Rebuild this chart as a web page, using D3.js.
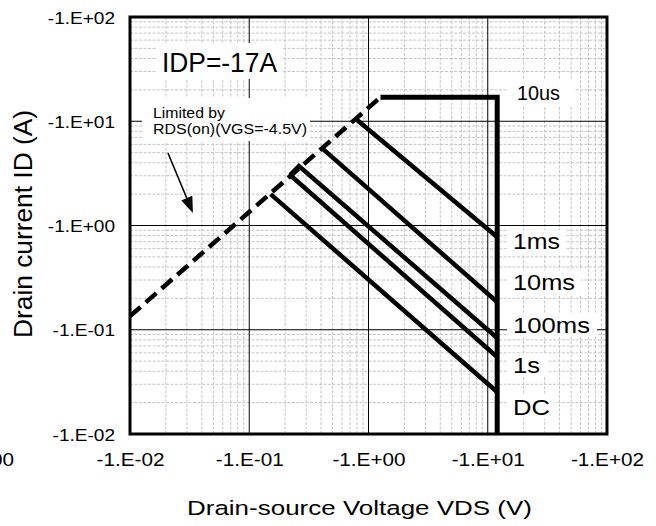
<!DOCTYPE html>
<html>
<head>
<meta charset="utf-8">
<script src="https://cdn.jsdelivr.net/npm/d3@7"></script>
<style>
  body { margin: 0; background: #fff; }
  text { font-family: "Liberation Sans", Arial, sans-serif; fill: #000; }
</style>
</head>
<body>
<div id="chart"></div>
<script>
// decade ticks, same on both axes
var xTicks = [0.01, 0.1, 1, 10, 100];
var yTicks = [0.01, 0.1, 1, 10, 100];
var tickText = ["-1.E-02", "-1.E-01", "-1.E+00", "-1.E+01", "-1.E+02"];

// RDS(on) limit (dashed)
var rdsV = [0.01, 1.26];
var rdsI = [0.135, 17];

// pulse curves, VDS (V) and ID (A)
var v10us = [1.26, 12, 12],    i10us = [17, 17, 0.01];
var v1ms = [0.77, 12],         i1ms = [10.7, 0.776];
var v10ms = [0.407, 12],       i10ms = [5.53, 0.1845];
var v100ms = [0.22, 0.261, 12], i100ms = [3.05, 3.72, 0.0834];
var v1s = [0.22, 12],          i1s = [3.05, 0.0548];
var vDC = [0.151, 12],         iDC = [2.0, 0.0253];

// arrow of the RDS(on) note
var arrowV = [0.0208, 0.0337];
var arrowI = [4.96, 1.32];

var W = 656, H = 526;
var L = 130, R = 607, T = 17, B = 434;

var svg = d3.select("#chart").append("svg")
    .attr("width", W)
    .attr("height", H);

var x = d3.scaleLog().domain([0.01, 100]).range([L, R]);
var y = d3.scaleLog().domain([0.01, 100]).range([B, T]);

// stretch text horizontally to the width seen in the picture
function fit(sel, w) {
    sel.each(function() {
        var n = this.getComputedTextLength();
        var target = w > 3 ? w : n * w;
        d3.select(this).attr("textLength", target).attr("lengthAdjust", "spacingAndGlyphs");
    });
}

// minor grid 2..9 per decade
var minor = [];
[0.01, 0.1, 1, 10].forEach(function(d) {
    for (var k = 2; k < 10; k++) minor.push(d * k);
});

var grid = svg.append("g");
grid.selectAll(".mx").data(minor).enter().append("line")
    .attr("x1", d => x(d)).attr("x2", d => x(d))
    .attr("y1", T).attr("y2", B)
    .attr("stroke", "#c4c4c4").attr("stroke-dasharray", "3,1.5");
grid.selectAll(".my").data(minor).enter().append("line")
    .attr("y1", d => y(d)).attr("y2", d => y(d))
    .attr("x1", L).attr("x2", R)
    .attr("stroke", "#c4c4c4").attr("stroke-dasharray", "3,1.5");
grid.selectAll(".Mx").data(xTicks).enter().append("line")
    .attr("x1", d => x(d)).attr("x2", d => x(d))
    .attr("y1", T).attr("y2", B)
    .attr("stroke", "#000").attr("stroke-width", 1);
grid.selectAll(".My").data(yTicks).enter().append("line")
    .attr("y1", d => y(d)).attr("y2", d => y(d))
    .attr("x1", L).attr("x2", R)
    .attr("stroke", "#000").attr("stroke-width", 1);

// white boxes under the notes
function note(x0, base, str, size, w) {
    var t = svg.append("text")
        .attr("x", x0).attr("y", base)
        .style("font-size", size + "px")
        .text(str);
    fit(t, w);
    return t;
}
var boxes = [
    [157, 43, 126, 36],
    [142, 98, 168, 43],
    [508, 80, 66, 27],
    [507, 230, 58, 24],
    [507, 270, 74, 24],
    [507, 313, 90, 24],
    [507, 353, 40, 24],
    [507, 395, 48, 24]
];
svg.selectAll(".box").data(boxes).enter().append("rect")
    .attr("x", d => d[0]).attr("y", d => d[1])
    .attr("width", d => d[2]).attr("height", d => d[3])
    .attr("fill", "#fff");

// curves
var line = d3.line().x(d => x(d[0])).y(d => y(d[1]));
function pts(v, i) { return v.map((d, k) => [d, i[k]]); }

svg.append("path")
    .attr("d", line(pts(rdsV, rdsI)))
    .attr("fill", "none").attr("stroke", "#000")
    .attr("stroke-width", 4.5).attr("stroke-dasharray", "14,7");

var curves = [pts(v10us, i10us), pts(v1ms, i1ms), pts(v10ms, i10ms),
              pts(v100ms, i100ms), pts(v1s, i1s), pts(vDC, iDC)];
svg.selectAll(".curve").data(curves).enter().append("path")
    .attr("d", d => line(d))
    .attr("fill", "none").attr("stroke", "#000")
    .attr("stroke-width", (d, k) => k === 0 ? 5 : 4.5)
    .attr("stroke-linejoin", "miter");

// frame
svg.append("rect")
    .attr("x", L).attr("y", T).attr("width", R - L).attr("height", B - T)
    .attr("fill", "none").attr("stroke", "#000").attr("stroke-width", 3);

// axes
var xAxis = svg.append("g")
    .attr("transform", "translate(0," + B + ")")
    .call(d3.axisBottom(x).tickValues(xTicks).tickSize(0)
        .tickFormat((d, i) => tickText[i]));
xAxis.select(".domain").remove();
xAxis.selectAll("text")
    .attr("dy", null).attr("y", 32)
    .style("font-size", "18.5px").style("font-family", null);
fit(xAxis.selectAll("text"), 1.12);

var yAxis = svg.append("g")
    .attr("transform", "translate(" + L + ",0)")
    .call(d3.axisLeft(y).tickValues(yTicks).tickSize(0)
        .tickFormat((d, i) => tickText[i]));
yAxis.select(".domain").remove();
yAxis.selectAll("text")
    .attr("x", -15).attr("dy", "0.36em")
    .style("font-size", "17px").style("font-family", null);
fit(yAxis.selectAll("text"), 1.12);

// stray label cut at the left edge
var stray = svg.append("text")
    .attr("x", 14).attr("y", 466)
    .attr("text-anchor", "end")
    .style("font-size", "18.5px")
    .text("-1.E+00");
fit(stray, 1.12);

// titles
var xt = svg.append("text")
    .attr("x", 359.5).attr("y", 515)
    .attr("text-anchor", "middle")
    .style("font-size", "20.5px")
    .text("Drain-source Voltage VDS (V)");
fit(xt, 345);

var yt = svg.append("text")
    .attr("transform", "translate(32,224) rotate(-90)")
    .attr("text-anchor", "middle")
    .style("font-size", "25px")
    .text("Drain current ID (A)");
fit(yt, 228);

// notes
note(162, 72, "IDP=-17A", 27, 115);
note(153, 117.5, "Limited by", 14, 72);
note(153, 134, "RDS(on)(VGS=-4.5V)", 14, 154);

var names = ["10us", "1ms", "10ms", "100ms", "1s", "DC"];
var nameX = [517, 513, 513, 513, 513, 513];
var nameY = [100, 249, 290, 333, 373, 415];
var nameSize = [19.5, 22.5, 22.5, 22.5, 22.5, 22.5];
var nameW = [43, 47, 62, 77, 27, 37];
names.forEach(function(n, k) {
    note(nameX[k], nameY[k], n, nameSize[k], nameW[k]);
});

// arrow
var ax1 = x(arrowV[0]), ay1 = y(arrowI[0]);
var ax2 = x(arrowV[1]), ay2 = y(arrowI[1]);
var ang = Math.atan2(ay2 - ay1, ax2 - ax1);
var hl = 16, hw = 6;
var bx = ax2 - hl * Math.cos(ang), by = ay2 - hl * Math.sin(ang);
svg.append("line")
    .attr("x1", ax1).attr("y1", ay1).attr("x2", bx).attr("y2", by)
    .attr("stroke", "#000").attr("stroke-width", 1.5);
svg.append("path")
    .attr("d", "M" + ax2 + "," + ay2 +
        "L" + (bx + hw * Math.sin(ang)) + "," + (by - hw * Math.cos(ang)) +
        "L" + (bx - hw * Math.sin(ang)) + "," + (by + hw * Math.cos(ang)) + "Z")
    .attr("fill", "#000");
</script>
</body>
</html>
